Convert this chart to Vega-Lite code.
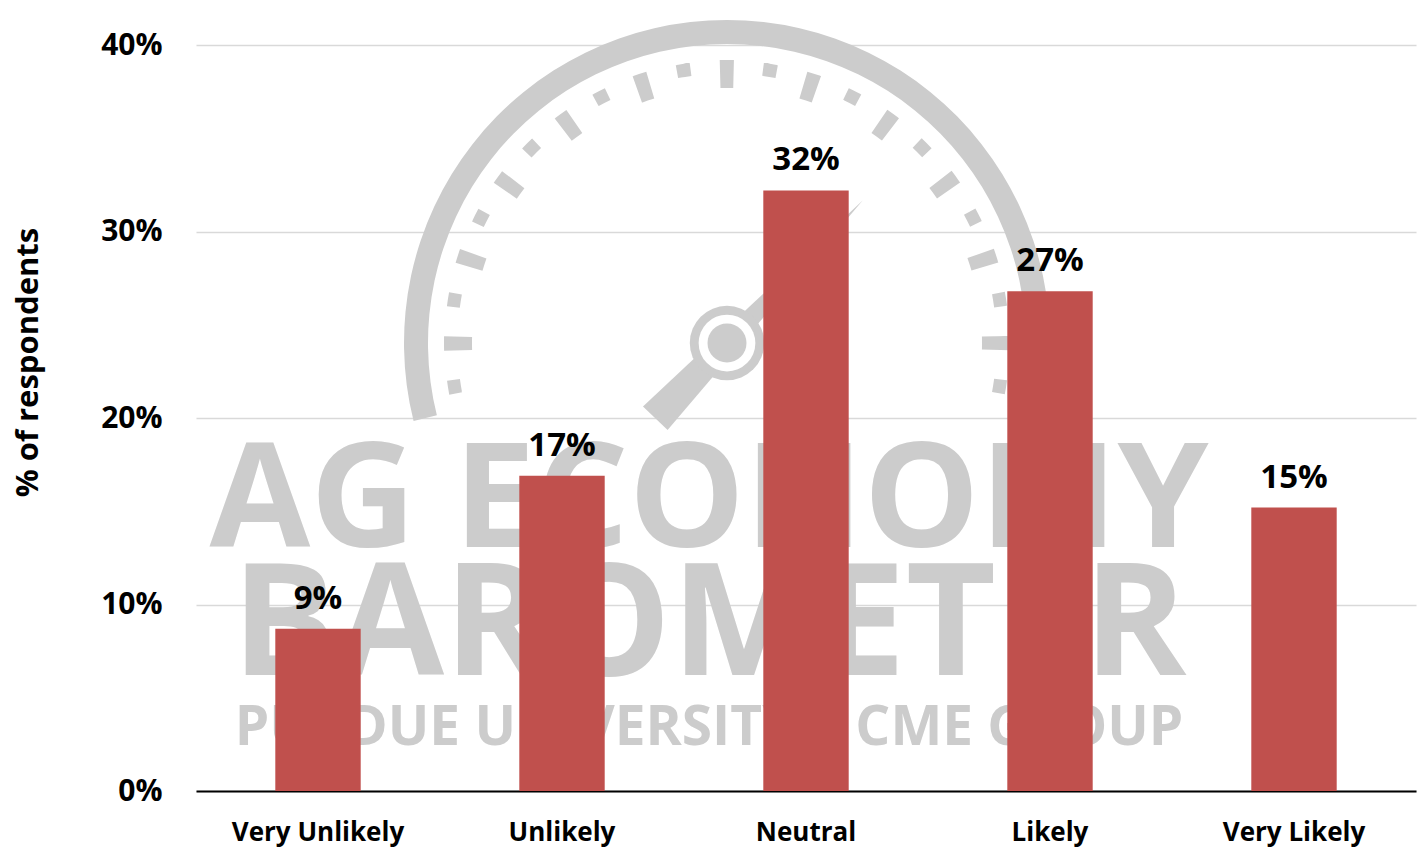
{
  "$schema": "https://vega.github.io/schema/vega-lite/v6.json",
  "width": 1220,
  "height": 746,
  "autosize": "none",
  "padding": {"left": 196, "top": 45, "right": 7, "bottom": 57},
  "background": "white",
  "config": {
    "view": {"stroke": null},
    "font": "Open Sans",
    "axisX": {
      "title": null,
      "labelAngle": 0,
      "labelFont": "Open Sans",
      "labelFontWeight": "bold",
      "labelFontSize": 26,
      "labelColor": "#000000",
      "labelPadding": 28,
      "ticks": false,
      "domainColor": "#000000",
      "domainWidth": 2,
      "grid": false,
      "bandPosition": 0.5
    },
    "axisY": {
      "titleFont": "Open Sans",
      "titleFontWeight": "bold",
      "titleFontSize": 31,
      "titleColor": "#000000",
      "titlePadding": 56,
      "titleY": 317,
      "labelFont": "Open Sans",
      "labelFontWeight": "bold",
      "labelFontSize": 30,
      "labelColor": "#000000",
      "labelPadding": 34,
      "ticks": false,
      "domain": false,
      "grid": true,
      "gridColor": "#d9d9d9",
      "gridWidth": 1.5
    }
  },
  "data": {
    "values": [
      {"category": "Very Unlikely", "share": 8.7, "label": "9%"},
      {"category": "Unlikely", "share": 16.9, "label": "17%"},
      {"category": "Neutral", "share": 32.2, "label": "32%"},
      {"category": "Likely", "share": 26.8, "label": "27%"},
      {"category": "Very Likely", "share": 15.2, "label": "15%"}
    ]
  },
  "layer": [
    {
      "data": {"values": [{"line": "AG ECONOMY"}]},
      "mark": {"type": "text", "font": "Open Sans", "fontWeight": "bold", "fontSize": 146, "color": "#cccccc", "align": "center", "baseline": "alphabetic", "dx": -97},
      "encoding": {
        "x": {"datum": "Neutral", "type": "nominal", "scale": {"domain": ["Very Unlikely", "Unlikely", "Neutral", "Likely", "Very Likely"], "paddingInner": 0.65, "paddingOuter": 0.325}, "axis": {"title": null}},
        "y": {"datum": 13.08, "type": "quantitative", "scale": {"domain": [0, 40], "nice": false}, "axis": {"title": "% of respondents", "values": [0, 10, 20, 30, 40], "labelExpr": "datum.value + '%'"}},
        "text": {"field": "line"}
      }
    },
    {
      "data": {"values": [{"line": "BAROMETER"}]},
      "mark": {"type": "text", "font": "Open Sans", "fontWeight": "bold", "fontSize": 156, "color": "#cccccc", "align": "center", "baseline": "alphabetic", "dx": -97},
      "encoding": {
        "x": {"datum": "Neutral", "type": "nominal"},
        "y": {"datum": 6.22, "type": "quantitative"},
        "text": {"field": "line"}
      }
    },
    {
      "data": {"values": [{"line": "PURDUE UNIVERSITY | CME GROUP"}]},
      "mark": {"type": "text", "font": "Open Sans", "fontWeight": "bold", "fontSize": 55, "color": "#cccccc", "align": "center", "baseline": "alphabetic", "dx": -97},
      "encoding": {
        "x": {"datum": "Neutral", "type": "nominal"},
        "y": {"datum": 2.47, "type": "quantitative"},
        "text": {"field": "line"}
      }
    },
    {
      "data": {"values": [{"part": "ring"}]},
      "mark": {"type": "arc", "innerRadius": 299, "outerRadius": 323, "theta": -1.815, "theta2": 1.815, "color": "#cccccc", "xOffset": -79},
      "encoding": {
        "x": {"datum": "Neutral", "type": "nominal"},
        "y": {"datum": 24.02, "type": "quantitative"}
      }
    },
    {
      "data": {"values": [{"part": "major ticks"}]},
      "mark": {"type": "arc", "innerRadius": 269, "outerRadius": 269, "theta": -1.7279, "theta2": 1.7279, "filled": false, "fill": null, "stroke": "#cccccc", "strokeWidth": 28, "strokeDash": [13, 71.5], "strokeDashOffset": 48.75, "xOffset": -79},
      "encoding": {
        "x": {"datum": "Neutral", "type": "nominal"},
        "y": {"datum": 24.02, "type": "quantitative"}
      }
    },
    {
      "data": {"values": [{"part": "minor ticks"}]},
      "mark": {"type": "arc", "innerRadius": 276, "outerRadius": 276, "theta": -1.885, "theta2": 1.885, "filled": false, "fill": null, "stroke": "#cccccc", "strokeWidth": 13, "strokeDash": [13, 73.7], "strokeDashOffset": 49.85, "xOffset": -79},
      "encoding": {
        "x": {"datum": "Neutral", "type": "nominal"},
        "y": {"datum": 24.02, "type": "quantitative"}
      }
    },
    {
      "data": {"values": [{"part": "needle"}]},
      "mark": {"type": "point", "shape": "M0,-0.985L0.085,0.52L-0.085,0.52Z", "size": 160000, "angle": 43.6, "filled": true, "color": "#cccccc", "opacity": 1, "xOffset": -79},
      "encoding": {
        "x": {"datum": "Neutral", "type": "nominal"},
        "y": {"datum": 24.02, "type": "quantitative"}
      }
    },
    {
      "data": {"values": [{"part": "hub"}]},
      "mark": {"type": "point", "shape": "circle", "size": 5542, "filled": true, "color": "#cccccc", "opacity": 1, "xOffset": -79},
      "encoding": {
        "x": {"datum": "Neutral", "type": "nominal"},
        "y": {"datum": 24.02, "type": "quantitative"}
      }
    },
    {
      "data": {"values": [{"part": "hub gap"}]},
      "mark": {"type": "point", "shape": "circle", "size": 3217, "filled": true, "color": "#ffffff", "opacity": 1, "xOffset": -79},
      "encoding": {
        "x": {"datum": "Neutral", "type": "nominal"},
        "y": {"datum": 24.02, "type": "quantitative"}
      }
    },
    {
      "data": {"values": [{"part": "hub core"}]},
      "mark": {"type": "point", "shape": "circle", "size": 1521, "filled": true, "color": "#cccccc", "opacity": 1, "xOffset": -79},
      "encoding": {
        "x": {"datum": "Neutral", "type": "nominal"},
        "y": {"datum": 24.02, "type": "quantitative"}
      }
    },
    {
      "mark": {"type": "bar", "color": "#c0504d"},
      "encoding": {
        "x": {"field": "category", "type": "nominal", "sort": null},
        "y": {"field": "share", "type": "quantitative"}
      }
    },
    {
      "mark": {"type": "text", "font": "Open Sans", "fontWeight": "bold", "fontSize": 33, "color": "#000000", "baseline": "alphabetic", "dy": -20},
      "encoding": {
        "x": {"field": "category", "type": "nominal", "sort": null},
        "y": {"field": "share", "type": "quantitative"},
        "text": {"field": "label"}
      }
    }
  ]
}
